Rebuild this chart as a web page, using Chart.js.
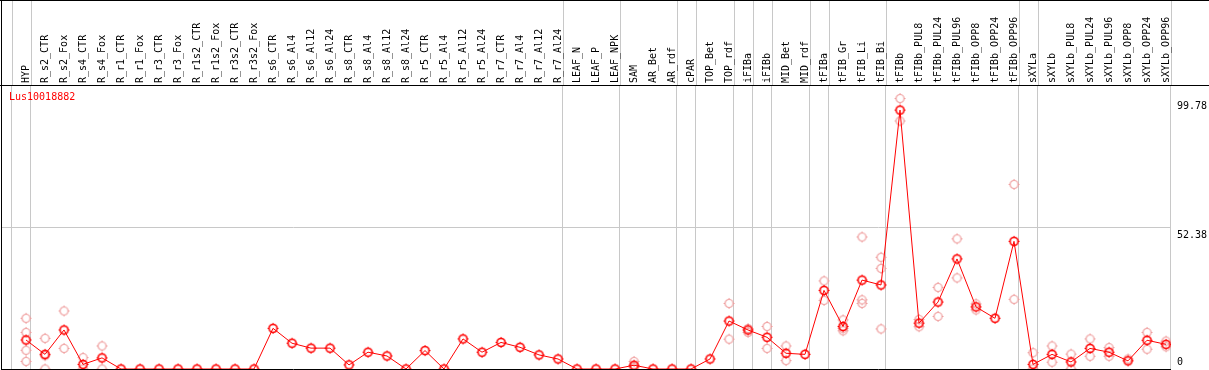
<!DOCTYPE html>
<html>
<head>
<meta charset="utf-8">
<title>Lus10018882</title>
<script src="https://cdn.jsdelivr.net/npm/chart.js@4.4.0/dist/chart.umd.min.js"></script>
<style>
  html, body { margin: 0; padding: 0; background: #fff; }
  #wrap { width: 1209px; height: 370px; }
</style>
</head>
<body>
<div id="wrap"><canvas id="chart"></canvas></div>
<script>
// gene shown in the panel
const geneName = 'Lus10018882';

// tissue / treatment columns, left to right
const categories = [
    'HYP', 'R_s2_CTR', 'R_s2_Fox', 'R_s4_CTR', 'R_s4_Fox', 'R_r1_CTR', 'R_r1_Fox', 'R_r3_CTR', 'R_r3_Fox',
    'R_r1s2_CTR', 'R_r1s2_Fox', 'R_r3s2_CTR', 'R_r3s2_Fox', 'R_s6_CTR', 'R_s6_Al4', 'R_s6_Al12', 'R_s6_Al24',
    'R_s8_CTR', 'R_s8_Al4', 'R_s8_Al12', 'R_s8_Al24', 'R_r5_CTR', 'R_r5_Al4', 'R_r5_Al12', 'R_r5_Al24',
    'R_r7_CTR', 'R_r7_Al4', 'R_r7_Al12', 'R_r7_Al24', 'LEAF_N', 'LEAF_P', 'LEAF_NPK', 'SAM', 'AR_Bet', 'AR_rdf',
    'cPAR', 'TOP_Bet', 'TOP_rdf', 'iFIBa', 'iFIBb', 'MID_Bet', 'MID_rdf', 'tFIBa', 'tFIB_Gr', 'tFIB_Li', 'tFIB_Bi',
    'tFIBb', 'tFIBb_PUL8', 'tFIBb_PUL24', 'tFIBb_PUL96', 'tFIBb_OPP8', 'tFIBb_OPP24', 'tFIBb_OPP96',
    'sXYLa', 'sXYLb', 'sXYLb_PUL8', 'sXYLb_PUL24', 'sXYLb_PUL96', 'sXYLb_OPP8', 'sXYLb_OPP24', 'sXYLb_OPP96'
];

// mean expression per column
const meanValues = [
    10.7, 5.4, 14.4, 1.7, 4.1, 0, 0, 0, 0,
    0, 0, 0, 0, 15.0, 9.5, 7.7, 7.7,
    1.5, 6.2, 4.8, 0, 6.8, 0, 11.1, 6.2,
    9.8, 8.0, 5.2, 3.7, 0, 0, 0, 1.4, 0, 0,
    0, 3.7, 17.7, 14.4, 11.7, 5.8, 5.4, 29.0, 15.7, 32.8, 31.0,
    95.5, 16.9, 24.7, 40.6, 22.9, 18.7, 47.1,
    1.7, 5.4, 2.6, 7.6, 6.2, 3.0, 10.6, 9.1
];

// individual replicates per column
const replicateValues = [
    [18.7, 13.5, 6.9, 2.8], [11.3, 0, 4.9], [21.4, 7.6], [4.2, 0], [8.5, 0], [], [], [], [],
    [], [], [], [], [], [], [], [],
    [], [], [], [], [], [], [], [],
    [], [], [], [], [], [], [], [2.8, 1.0, 0.5], [], [],
    [], [], [24.2, 11.0], [14.9, 13.5], [15.7, 7.6], [8.5, 3.1], [], [32.5, 25.3], [18.1, 14.1, 15.0], [48.7, 25.5, 24.2], [41.2, 37.1, 14.8],
    [99.78, 91.5], [18.3, 15.6], [30.1, 19.4], [48.0, 33.6], [24.0, 21.8], [], [68.1, 25.7],
    [6.0, 0], [8.5, 2.5], [5.5, 0], [11.1, 4.7], [7.9, 4.7], [3.7], [13.5, 7.3], [10.3, 8.2]
];

// separators between sample groups (in column units)
const groupBreaks = [-0.76, 0.24, 28.24, 31.24, 34.24, 35.24, 37.24, 38.24, 39.24, 41.24, 42.24, 45.24, 52.24, 53.24, 60.24];

// right hand value labels
const yLabels = [0, 52.38, 99.78];
const yGrid = [0, 52.38];
const yTop = 104.76;

const FONT = '10px "DejaVu Sans Mono", monospace';
const GRID = '#c8c8c8';

function makeMarker(color, width) {
    const c = document.createElement('canvas');
    c.width = 13; c.height = 13;
    const g = c.getContext('2d');
    g.strokeStyle = color;
    g.lineWidth = width;
    g.beginPath();
    g.arc(6.5, 6.5, 4, 0, Math.PI * 2);
    g.stroke();
    // tiny nubs on the four sides
    g.fillStyle = color;
    g.fillRect(6, 1, 1, 1);
    g.fillRect(6, 11, 1, 1);
    g.fillRect(1, 6, 1, 1);
    g.fillRect(11, 6, 1, 1);
    return c;
}

const meanMarker = makeMarker('#ff0000', 1.6);
const repMarker = makeMarker('#ef9d9d', 1.2);

// frame, header labels, title and value labels
const decor = {
    id: 'decor',
    afterDraw(chart) {
        const ctx = chart.ctx;
        const xs = chart.scales.x, ys = chart.scales.y;
        const area = chart.chartArea;
        const W = chart.width, H = chart.height;
        ctx.save();

        // group separators through the header
        ctx.strokeStyle = GRID;
        ctx.lineWidth = 1;
        groupBreaks.forEach(b => {
            const x = Math.round(xs.getPixelForValue(b)) + 0.5;
            ctx.beginPath();
            ctx.moveTo(x, 0);
            ctx.lineTo(x, area.top);
            ctx.stroke();
        });

        ctx.fillStyle = '#000';
        ctx.fillRect(0, 0, W, 1);
        ctx.fillRect(0, Math.round(area.top), W, 1);
        ctx.fillRect(1, 0, 1, H);

        // rotated column labels
        ctx.font = FONT;
        ctx.fillStyle = '#000';
        ctx.textAlign = 'left';
        ctx.textBaseline = 'middle';
        categories.forEach((name, i) => {
            const x = xs.getPixelForValue(i);
            ctx.save();
            ctx.translate(x, area.top - 2);
            ctx.rotate(-Math.PI / 2);
            ctx.fillText(name, 0, 0);
            ctx.restore();
        });

        // gene name
        ctx.fillStyle = '#ff0000';
        ctx.textBaseline = 'middle';
        ctx.fillText(geneName, 9, area.top + 12);

        // value labels on the right
        ctx.fillStyle = '#000';
        yLabels.forEach(v => {
            const y = ys.getPixelForValue(v);
            if (v === 0) {
                ctx.textBaseline = 'bottom';
                ctx.fillText(String(v), area.right + 6, y - 2);
            } else {
                ctx.textBaseline = 'top';
                ctx.fillText(String(v), area.right + 6, y + 3);
            }
        });
        ctx.restore();
    }
};

new Chart(document.getElementById('chart'), {
    type: 'line',
    data: {
        datasets: [
            {
                label: 'mean',
                data: meanValues.map((v, i) => ({ x: i, y: v })),
                borderColor: '#ff0000',
                borderWidth: 1,
                pointStyle: meanMarker,
                pointRadius: 5,
                tension: 0,
                fill: false
            },
            {
                label: 'replicates',
                data: replicateValues.flatMap((arr, i) => arr.map(v => ({ x: i, y: v }))),
                showLine: false,
                pointStyle: repMarker,
                pointRadius: 5
            }
        ]
    },
    options: {
        responsive: true,
        maintainAspectRatio: false,
        animation: false,
        events: [],
        layout: { autoPadding: false, padding: { top: 85, left: 1, right: 38, bottom: 1 } },
        plugins: { legend: { display: false }, tooltip: { enabled: false } },
        scales: {
            x: {
                type: 'linear',
                min: -1.316,
                max: 60.263,
                afterBuildTicks: s => { s.ticks = groupBreaks.map(v => ({ value: v })); },
                afterFit: s => { s.height = 0; },
                ticks: { display: false },
                border: { display: false },
                grid: { color: GRID, lineWidth: 1, drawTicks: false }
            },
            y: {
                min: 0,
                max: yTop,
                afterBuildTicks: s => { s.ticks = yGrid.map(v => ({ value: v })); },
                afterFit: s => { s.width = 0; },
                ticks: { display: false },
                border: { display: false },
                grid: {
                    color: c => (c.tick && c.tick.value === 0 ? '#000' : GRID),
                    lineWidth: 1,
                    drawTicks: false
                }
            }
        }
    },
    plugins: [decor]
});
</script>
</body>
</html>
